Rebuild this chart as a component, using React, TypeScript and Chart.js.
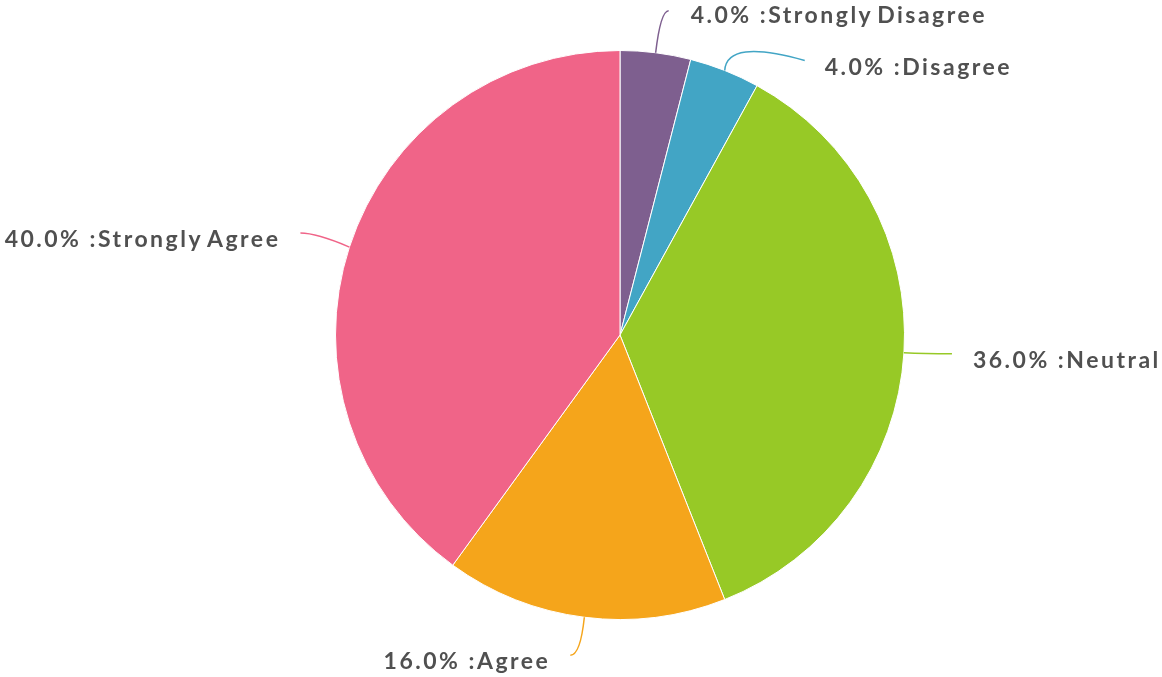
import React, { useEffect, useRef } from "react";
import { Chart, registerables } from "chart.js";

Chart.register(...registerables);

const categories = ["Strongly Disagree", "Disagree", "Neutral", "Agree", "Strongly Agree"];
const values = [4, 4, 36, 16, 40];
const colors = ["#7E5F8F", "#42A5C5", "#97C926", "#F5A51B", "#F06488"];

// leader-line layout: offsets relative to the slice's outer edge midpoint
// [ctrl dx, ctrl dy, end dx, end dy, label dx, label dy, align]
const leaderLayout: [number, number, number, number, number, number, "left" | "right"][] = [
  [5, -42, 13, -42, 35, -37, "left"],
  [2, -32, 80, -10, 100, -3, "left"],
  [20, 1, 48, 1, 69, 8, "left"],
  [-4, 38, -14, 38, -34, 44, "right"],
  [-33, -14, -49, -14, -69, -8, "right"],
];

const labelPlugin = {
  id: "leaderLabels",
  afterDatasetsDraw(chart: any) {
    const ctx = chart.ctx;
    const meta = chart.getDatasetMeta(0);
    const data = chart.data.datasets[0].data as number[];
    const total = data.reduce((a, b) => a + b, 0);
    meta.data.forEach((arc: any, i: number) => {
      const p = arc.getProps(["x", "y", "startAngle", "endAngle", "outerRadius"], true);
      const mid = (p.startAngle + p.endAngle) / 2;
      const ex = p.x + Math.cos(mid) * p.outerRadius;
      const ey = p.y + Math.sin(mid) * p.outerRadius;
      const [cx, cy, tx, ty, lx, ly, align] = leaderLayout[i];
      ctx.save();
      ctx.strokeStyle = colors[i];
      ctx.lineWidth = 1.5;
      ctx.beginPath();
      ctx.moveTo(ex, ey);
      ctx.quadraticCurveTo(ex + cx, ey + cy, ex + tx, ey + ty);
      ctx.stroke();
      const pct = ((data[i] / total) * 100).toFixed(1);
      const text = `${pct}% :${categories[i].replace(/ /g, "\u200A")}`;
      ctx.font = "bold 23px Lato";
      (ctx as any).letterSpacing = "2.5px";
      ctx.fillStyle = "#505050";
      ctx.textAlign = align;
      ctx.textBaseline = "middle";
      ctx.fillText(text, ex + lx, ey + ly);
      ctx.restore();
    });
  },
};

export default function App() {
  const ref = useRef<HTMLCanvasElement>(null);
  useEffect(() => {
    document.body.style.margin = "0";
    const chart = new Chart(ref.current!, {
      type: "pie",
      data: {
        labels: categories,
        datasets: [
          {
            data: values,
            backgroundColor: colors,
            borderColor: "#ffffff",
            borderWidth: 1,
          },
        ],
      },
      options: {
        animation: false,
        responsive: false,
        layout: { padding: { top: 50, bottom: 57, left: 335, right: 257 } },
        plugins: { legend: { display: false }, tooltip: { enabled: false } },
      },
      plugins: [labelPlugin],
    });
    return () => chart.destroy();
  }, []);
  return (
    <div style={{ width: 1162, height: 677 }}>
      <canvas ref={ref} width={1162} height={677} />
    </div>
  );
}
